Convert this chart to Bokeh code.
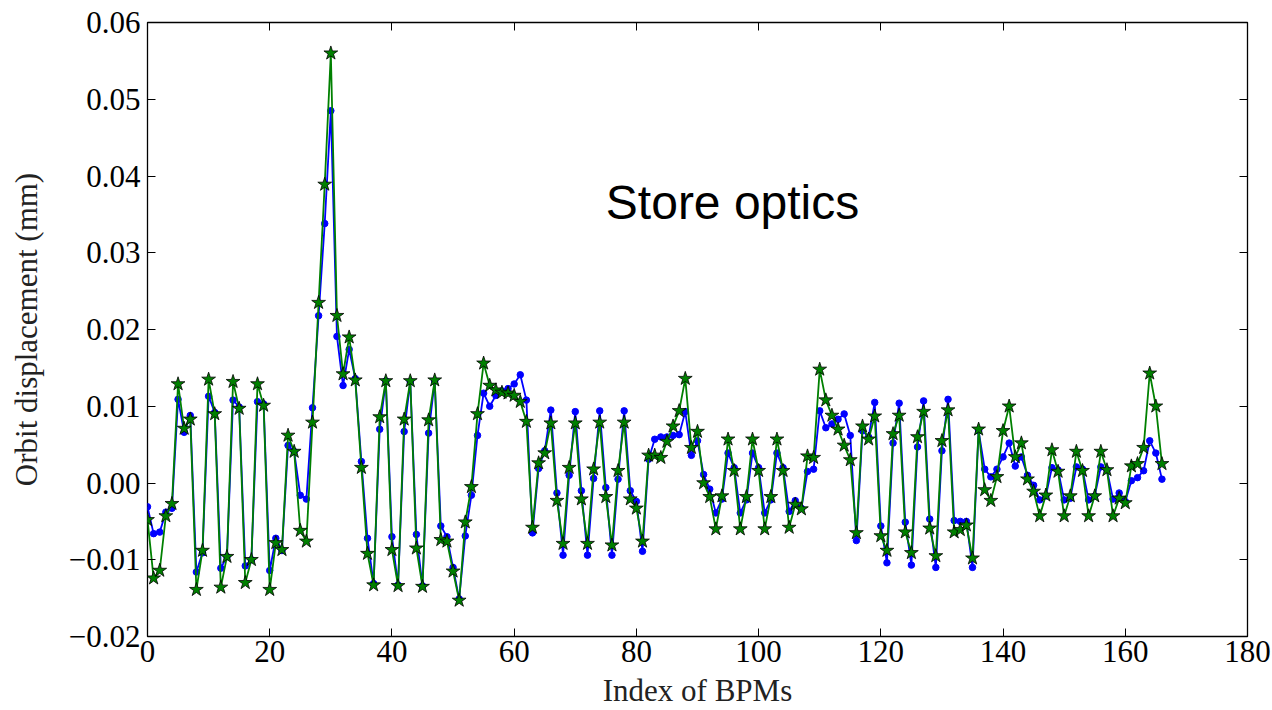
from bokeh.plotting import figure
from bokeh.models import (ColumnDataSource, FixedTicker, CustomJSTickFormatter,
                          LinearAxis, Label, Range1d)
from bokeh.embed import file_html
from bokeh.resources import INLINE

# ---- data -------------------------------------------------------------
design_orbit = [
    -0.0031, -0.0066, -0.0064, -0.0038, -0.0033, 0.0109, 0.0066, 0.0088, -0.0116, -0.0091,
    0.0113, 0.0092, -0.0111, -0.0096, 0.0108, 0.0099, -0.0108, -0.0100, 0.0106, 0.0103,
    -0.0114, -0.0072, -0.0088, 0.0049, 0.0041, -0.0016, -0.0021, 0.0098, 0.0218, 0.0338,
    0.0485, 0.0191, 0.0127, 0.0174, 0.0136, 0.0028, -0.0072, -0.0131, 0.0070, 0.0133,
    -0.0070, -0.0133, 0.0067, 0.0132, -0.0067, -0.0134, 0.0065, 0.0133, -0.0056, -0.0070,
    -0.0110, -0.0151, -0.0069, -0.0016, 0.0062, 0.0117, 0.0100, 0.0114, 0.0120, 0.0123,
    0.0129, 0.0141, 0.0108, -0.0065, 0.0019, 0.0042, 0.0095, -0.0013, -0.0094, 0.0010,
    0.0093, -0.0010, -0.0094, 0.0006, 0.0094, -0.0006, -0.0094, 0.0005, 0.0094, -0.0010,
    -0.0024, -0.0089, 0.0031, 0.0057, 0.0060, 0.0060, 0.0062, 0.0063, 0.0093, 0.0036,
    0.0055, 0.0011, -0.0008, -0.0039, -0.0021, 0.0039, 0.0020, -0.0039, -0.0022, 0.0039,
    0.0020, -0.0039, -0.0022, 0.0039, 0.0020, -0.0037, -0.0023, -0.0033, 0.0015, 0.0018,
    0.0094, 0.0072, 0.0077, 0.0083, 0.0090, 0.0062, -0.0075, 0.0068, 0.0060, 0.0105,
    -0.0056, -0.0104, 0.0052, 0.0104, -0.0051, -0.0107, 0.0047, 0.0107, -0.0047, -0.0110,
    0.0042, 0.0109, -0.0049, -0.0050, -0.0050, -0.0110, 0.0068, 0.0018, 0.0008, 0.0018,
    0.0034, 0.0052, 0.0022, 0.0034, 0.0010, -0.0003, -0.0022, -0.0017, 0.0020, 0.0017,
    -0.0022, -0.0020, 0.0021, 0.0018, -0.0022, -0.0017, 0.0021, 0.0017, -0.0021, -0.0013,
    -0.0024, 0.0003, 0.0007, 0.0016, 0.0055, 0.0039, 0.0005,
]

store_orbit = [
    -0.0048, -0.0124, -0.0114, -0.0043, -0.0027, 0.0129, 0.0071, 0.0083, -0.0139, -0.0088,
    0.0135, 0.0090, -0.0136, -0.0096, 0.0132, 0.0097, -0.0130, -0.0100, 0.0129, 0.0101,
    -0.0139, -0.0078, -0.0087, 0.0062, 0.0041, -0.0062, -0.0076, 0.0079, 0.0235, 0.0389,
    0.0560, 0.0218, 0.0142, 0.0190, 0.0134, 0.0020, -0.0092, -0.0133, 0.0086, 0.0133,
    -0.0087, -0.0134, 0.0083, 0.0133, -0.0085, -0.0135, 0.0082, 0.0134, -0.0074, -0.0076,
    -0.0115, -0.0153, -0.0051, -0.0005, 0.0090, 0.0156, 0.0127, 0.0121, 0.0118, 0.0117,
    0.0114, 0.0106, 0.0080, -0.0058, 0.0026, 0.0039, 0.0078, -0.0023, -0.0079, 0.0020,
    0.0078, -0.0021, -0.0079, 0.0018, 0.0079, -0.0018, -0.0081, 0.0016, 0.0079, -0.0021,
    -0.0033, -0.0076, 0.0036, 0.0036, 0.0033, 0.0054, 0.0074, 0.0094, 0.0136, 0.0046,
    0.0067, 0.0000, -0.0018, -0.0060, -0.0017, 0.0057, 0.0016, -0.0060, -0.0018, 0.0057,
    0.0016, -0.0060, -0.0018, 0.0057, 0.0016, -0.0058, -0.0028, -0.0034, 0.0035, 0.0033,
    0.0148, 0.0108, 0.0088, 0.0070, 0.0049, 0.0030, -0.0065, 0.0074, 0.0057, 0.0087,
    -0.0069, -0.0088, 0.0064, 0.0088, -0.0064, -0.0091, 0.0060, 0.0093, -0.0059, -0.0095,
    0.0055, 0.0095, -0.0064, -0.0061, -0.0055, -0.0098, 0.0070, -0.0009, -0.0023, 0.0008,
    0.0068, 0.0100, 0.0034, 0.0052, 0.0005, -0.0011, -0.0043, -0.0016, 0.0043, 0.0015,
    -0.0043, -0.0017, 0.0041, 0.0016, -0.0043, -0.0017, 0.0041, 0.0017, -0.0043, -0.0020,
    -0.0026, 0.0022, 0.0025, 0.0046, 0.0143, 0.0100, 0.0025,
]

bpm_index = list(range(len(store_orbit)))

x_ticks = [0, 20, 40, 60, 80, 100, 120, 140, 160, 180]
y_ticks = [-0.02, -0.01, 0.0, 0.01, 0.02, 0.03, 0.04, 0.05, 0.06]

title_text = "Store optics"
x_label = "Index of BPMs"
y_label = "Orbit displacement (mm)"

# ---- figure -----------------------------------------------------------
SERIF = "Liberation Serif"
FS = "31px"

src = ColumnDataSource(dict(x=bpm_index, design=design_orbit, store=store_orbit))

p = figure(width=1272, height=710, output_backend="svg", toolbar_location=None,
           x_range=Range1d(0, 180), y_range=Range1d(-0.02, 0.06),
           min_border_left=147, min_border_right=25, min_border_top=22,
           min_border_bottom=73, background_fill_color="white",
           border_fill_color="white")
p.grid.visible = False
p.outline_line_color = "black"
p.outline_line_width = 1.3

fmt = CustomJSTickFormatter(code="""
    const s = Math.abs(tick).toFixed(2);
    return (tick < -1e-9 ? "\u2212" : "") + s;
""")

def style_axis(ax, show_labels=True):
    ax.axis_line_color = None
    ax.major_tick_line_color = "black"
    ax.major_tick_line_width = 1
    ax.major_tick_in = 8
    ax.major_tick_out = 0
    ax.minor_tick_line_color = None
    ax.major_label_text_font = SERIF
    if show_labels:
        ax.major_label_text_font_size = FS
        ax.major_label_text_color = "black"
    else:
        ax.major_label_text_color = None
        ax.major_label_standoff = 0

xa = p.xaxis[0]
xa.ticker = FixedTicker(ticks=x_ticks)
style_axis(xa)
xa.major_label_standoff = 4
xa.major_label_text_line_height = 0.9
xa.axis_label = x_label
xa.axis_label_text_font = SERIF
xa.axis_label_text_font_size = FS
xa.axis_label_text_font_style = "normal"
xa.axis_label_text_line_height = 0.9
xa.axis_label_standoff = 8
xa.axis_label_text_color = "#222222"

ya = p.yaxis[0]
ya.ticker = FixedTicker(ticks=y_ticks)
ya.formatter = fmt
style_axis(ya)
ya.major_label_standoff = 7
ya.axis_label = y_label
ya.axis_label_text_font = SERIF
ya.axis_label_text_font_size = FS
ya.axis_label_text_font_style = "normal"
ya.axis_label_standoff = 22
ya.axis_label_text_color = "#222222"

top = LinearAxis(ticker=FixedTicker(ticks=x_ticks))
style_axis(top, show_labels=False)
p.add_layout(top, "above")
right = LinearAxis(ticker=FixedTicker(ticks=y_ticks))
style_axis(right, show_labels=False)
p.add_layout(right, "right")

# design optics (blue dots)
p.line("x", "design", source=src, line_color="#0000ff", line_width=1.8)
p.scatter("x", "design", source=src, marker="circle", size=6.5,
          fill_color="#0000ff", line_color="#0000ff")

# store optics (green stars)
p.line("x", "store", source=src, line_color="#008000", line_width=1.8)
p.scatter("x", "store", source=src, marker="star", size=14.5,
          fill_color="#008000", line_color="black", line_width=0.8)

p.add_layout(Label(x=75, y=0.0365, text=title_text, text_font="Liberation Sans",
                   text_font_size="48px", text_color="black",
                   text_baseline="alphabetic", text_align="left"))

open("out.html", "w").write(file_html(p, INLINE))
